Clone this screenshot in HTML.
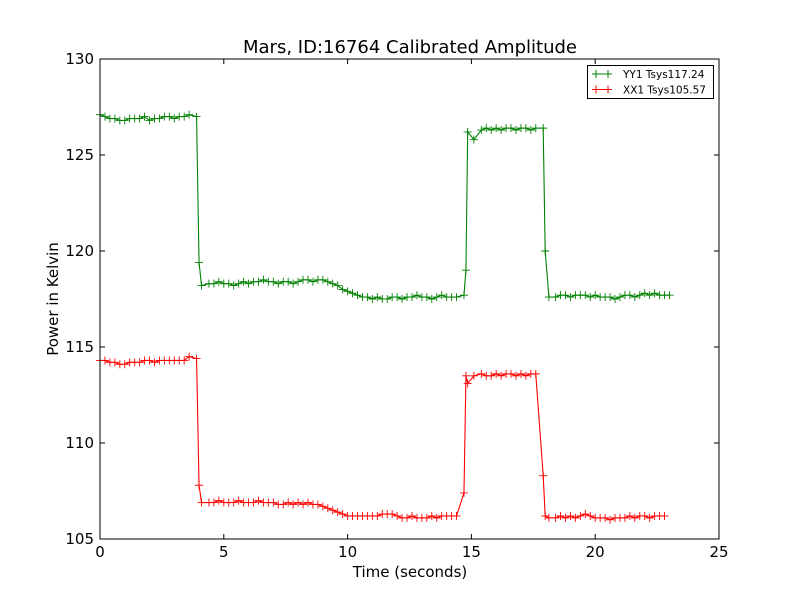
<!DOCTYPE html>
<html><head><meta charset="utf-8"><style>
body{margin:0;background:#fff;}
svg{display:block;font-family:"DejaVu Sans","Liberation Sans",sans-serif;}
</style></head><body>
<svg id="c" width="800" height="600">
<rect x="0" y="0" width="800" height="600" fill="#fff"/>
<text x="410" y="53" font-size="18" text-anchor="middle">Mars, ID:16764 Calibrated Amplitude</text>
<g id="plot"></g>
<text x="410" y="577" font-size="15" text-anchor="middle">Time (seconds)</text>
<text transform="translate(58,299) rotate(-90)" font-size="15" text-anchor="middle">Power in Kelvin</text>
</svg>
<script>
const xTicks=[0,5,10,15,20,25];
const yTicks=[105,110,115,120,125,130];
const greenVals=[127.1,127.0,126.9,126.9,126.8,126.8,126.9,126.9,126.9,127.0,126.8,126.9,126.9,127.0,127.0,126.9,127.0,127.0,127.1,127.0,
119.4,
118.2,118.3,118.3,118.4,118.3,118.3,118.2,118.3,118.4,118.3,118.4,118.4,118.5,118.4,118.4,118.3,118.4,118.4,118.3,118.4,118.5,118.5,118.4,118.5,118.5,
118.4,118.3,118.2,118.0,117.9,117.8,117.7,117.6,117.6,
117.5,117.6,117.5,117.5,117.6,117.6,117.5,117.6,117.6,117.7,117.6,117.6,117.5,117.6,117.7,117.6,117.6,117.6,117.7,
119.0,126.2,125.8,
126.3,126.4,126.3,126.4,126.3,126.4,126.4,126.3,126.4,126.4,126.3,126.4,126.4,
120.0,117.6,
117.6,117.7,117.7,117.6,117.7,117.7,117.7,117.6,117.7,117.6,117.6,117.6,117.5,117.6,117.7,117.7,117.6,117.7,117.8,117.7,117.8,117.7,117.7,117.7];
const redVals=[114.3,114.3,114.2,114.2,114.1,114.1,114.2,114.2,114.2,114.3,114.3,114.2,114.3,114.3,114.3,114.3,114.3,114.3,114.5,114.4,
107.8,
106.9,106.9,106.9,107.0,106.9,106.9,106.9,107.0,106.9,106.9,106.9,107.0,106.9,106.9,106.9,106.8,106.8,106.9,106.8,106.9,106.8,106.9,106.8,106.8,
106.7,106.6,106.5,106.4,106.3,106.2,106.2,106.2,106.2,
106.2,106.2,106.2,106.3,106.3,106.3,106.2,106.1,106.1,106.2,106.1,106.1,106.1,106.2,106.1,106.2,106.2,106.2,106.2,
107.4,113.5,113.1,
113.5,113.6,113.5,113.5,113.6,113.5,113.6,113.6,113.5,113.6,113.5,113.6,113.6,
108.3,106.2,
106.1,106.1,106.2,106.1,106.2,106.1,106.2,106.3,106.2,106.1,106.1,106.1,106.0,106.1,106.1,106.1,106.2,106.1,106.2,106.2,106.1,106.2,106.2,106.2];
const timeStep=0.2;
// sample times near the transitions (index -> time in seconds)
const transitionTimes={19:3.9,20:4.0,21:4.1,73:14.7,74:14.78,75:14.85,76:15.1,89:17.9,90:17.98,91:18.13};
const legendLabels=["YY1 Tsys117.24","XX1 Tsys105.57"];

const L=100,R=719,T=59,B=539;
const xS=v=>L+(v-0)/(25-0)*(R-L);
const yS=v=>B-(v-105)/(130-105)*(B-T);
const tAt=i=>(i in transitionTimes)?transitionTimes[i]:i*timeStep;
const NS="http://www.w3.org/2000/svg";
const g=document.getElementById('plot');
function mk(tag,attrs,parent){const e=document.createElementNS(NS,tag);for(const k in attrs)e.setAttribute(k,attrs[k]);(parent||g).appendChild(e);return e;}

function series(vals,color,name){
  const sg=mk('g',{});
  
  
  const pts=vals.map((v,i)=>xS(tAt(i)).toFixed(2)+','+yS(v).toFixed(2)).join(' ');
  const pl=mk('polyline',{points:pts,fill:'none',stroke:color,'stroke-width':1.1},sg);
  
  
  let d='';
  vals.forEach((v,i)=>{const x=xS(tAt(i)),y=yS(v);d+=`M${x-4},${y}H${x+4}M${x},${y-4}V${y+4}`;});
  const mp=mk('path',{d:d,stroke:color,'stroke-width':0.9,fill:'none'},sg);
  
  
}
series(greenVals,'#008000','series-yy1');
series(redVals,'#ff0000','series-xx1');

const frame=mk('rect',{x:L,y:T,width:R-L,height:B-T,fill:'none',stroke:'#000','stroke-width':1});



xTicks.forEach(t=>{
  const x=xS(t);
  const tk=mk('path',{d:`M${x},${B}V${B-5}M${x},${T}V${T+5}`,stroke:'#000'});
  
  
  const lb=mk('text',{x:x,y:B+18,'font-size':15,'text-anchor':'middle'});
  lb.textContent=t;
  
  
});
yTicks.forEach(t=>{
  const y=yS(t);
  const tk=mk('path',{d:`M${L},${y}H${L+5}M${R},${y}H${R-5}`,stroke:'#000'});
  
  
  const lb=mk('text',{x:L-6,y:y+5,'font-size':15,'text-anchor':'end'});
  lb.textContent=t;
  
  
});

const lg=mk('g',{});


mk('rect',{x:587.5,y:65.5,width:126,height:33,fill:'#fff',stroke:'#000','stroke-width':1},lg);
const colors=['#008000','#ff0000'];
legendLabels.forEach((lab,i)=>{
  const y=74+i*15.5;
  const e=mk('g',{},lg);
  
  
  mk('path',{d:`M592,${y}H612M596,${y-4}V${y+4}M608,${y-4}V${y+4}`,stroke:colors[i],'stroke-width':1},e);
  const tx=mk('text',{x:623,y:y+4,'font-size':10.5},e);
  tx.textContent=lab;
});
</script>
</body></html>
